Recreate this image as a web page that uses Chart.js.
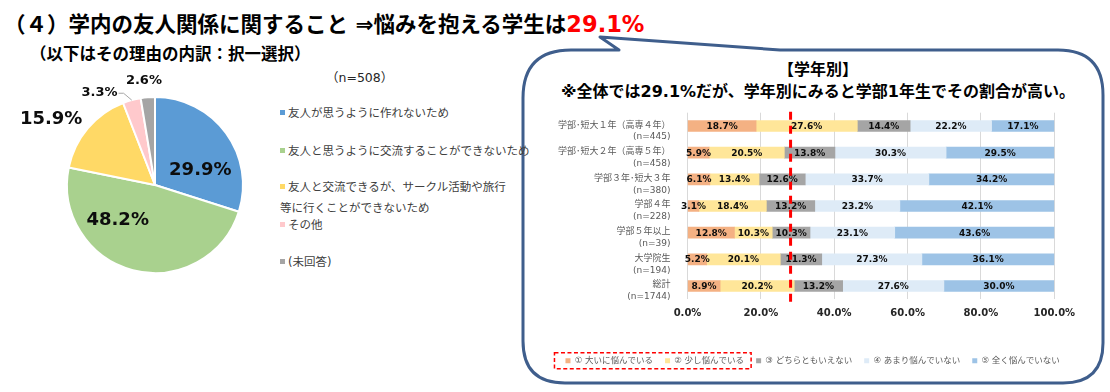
<!DOCTYPE html>
<html lang="ja">
<head>
<meta charset="utf-8">
<script src="https://cdn.jsdelivr.net/npm/chart.js@4.4.1/dist/chart.umd.min.js"></script>
<style>
  body { margin: 0; width: 1110px; height: 392px; background: #fff; position: relative; overflow: hidden;
         font-family: "DejaVu Sans", "Noto Sans CJK JP", sans-serif; color: #000; }
  .abs { position: absolute; white-space: nowrap; }
  #title { left: 4px; top: 9px; font-size: 21.5px; font-weight: bold; line-height: 30px; }
  #title .red { color: #FF0000; font-size: 22.5px; }
  #subtitle { left: 30px; top: 45px; font-size: 16.5px; font-weight: bold; line-height: 20px; }
  #nCount { left: 326px; top: 70px; font-size: 12.5px; line-height: 16px; color: #262626; }
  .lg { position: absolute; left: 280px; font-size: 11.5px; line-height: 16px; color: #404040; white-space: nowrap; }
  .lg i { position: absolute; left: 0; top: 5px; width: 5px; height: 5px; }
  .lg span { position: absolute; left: 8px; top: 0; }
  #callout { position: absolute; left: 0; top: 0; }
  .boxHead { left: 528px; width: 580px; text-align: center; font-weight: bold; font-size: 16px; line-height: 20px; }
  canvas { position: absolute; }
</style>
</head>
<body>
<svg id="callout" width="1110" height="392">
  <path d="M 523 98 Q 523 50 571 50 L 619 50 L 600 37 L 780 50 L 1058 50 Q 1103 50 1103 95 L 1103 343 Q 1103 383 1063 383 L 565 383 Q 523 383 523 341 Z"
        fill="none" stroke="#3F5E8C" stroke-width="3" stroke-linejoin="round"/>
</svg>

<div id="title" class="abs">（４）学内の友人関係に関すること ⇒悩みを抱える学生は<span class="red">29.1%</span></div>
<div id="subtitle" class="abs">（以下はその理由の内訳：択一選択）</div>
<div id="nCount" class="abs">（n=508）</div>
<div id="pieLegend"></div>

<div class="abs boxHead" style="top:60px">【学年別】</div>
<div class="abs boxHead" style="top:82px">※全体では29.1%だが、学年別にみると学部1年生でその割合が高い。</div>

<canvas id="pieChart" width="310" height="250" style="left:0; top:60px;"></canvas>
<canvas id="barChart" width="600" height="275" style="left:500px; top:100px;"></canvas>

<script>
// pie: reasons (n=508)
const pieLabels = ['友人が思うように作れないため', '友人と思うように交流することができないため',
  ['友人と交流できるが、サークル活動や旅行', '等に行くことができないため'], 'その他', '(未回答)'];
const pieValues = [29.9, 48.2, 15.9, 3.3, 2.6];
const pieColors = ['#5B9BD5', '#A9D18E', '#FFD966', '#FFC9CC', '#A5A5A5'];

// stacked bars by school year
const gradeLabels = [
  ['学部･短大１年（高専４年）', '(n=445)'],
  ['学部･短大２年（高専５年）', '(n=458)'],
  ['学部３年･短大３年', '(n=380)'],
  ['学部４年', '(n=228)'],
  ['学部５年以上', '(n=39)'],
  ['大学院生', '(n=194)'],
  ['総計', '(n=1744)']
];
const veryWorried     = [18.7, 5.9, 6.1, 3.1, 12.8, 5.2, 8.9];
const slightlyWorried = [27.6, 20.5, 13.4, 18.4, 10.3, 20.1, 20.2];
const neither         = [14.4, 13.8, 12.6, 13.2, 10.3, 11.3, 13.2];
const notMuch         = [22.2, 30.3, 33.7, 23.2, 23.1, 27.3, 27.6];
const notAtAll        = [17.1, 29.5, 34.2, 42.1, 43.6, 36.1, 30.0];
const seriesNames = ['① 大いに悩んでいる', '② 少し悩んでいる', '③ どちらともいえない', '④ あまり悩んでいない', '⑤ 全く悩んでいない'];
const seriesColors = ['#F4B183', '#FFE699', '#A5A5A5', '#DEEBF7', '#9DC3E6'];
const refLine = 28.1;

// label anchors for pie percentages, as fractions of the radius from the centre
const pieLabelAnchors = [[0.515, -0.172], [-0.424, 0.401], [-1.18, -0.745], [-0.63, -1.054], [-0.126, -1.19]];
const pieLabelSizes = [18, 18, 18, 13, 13];
const legendShift = 35.5;

// html legend for the pie
const legendTops = [105, 143, 179, 217, 254];
const pieLegend = document.getElementById('pieLegend');
pieLabels.forEach((lab, i) => {
  const lines = Array.isArray(lab) ? lab : [lab];
  const d = document.createElement('div');
  d.className = 'lg';
  d.style.top = legendTops[i] + 'px';
  d.innerHTML = '<i style="background:' + pieColors[i] + '"></i>' +
    lines.map((t, k) => '<span style="top:' + (k * 21) + 'px;' + (k ? 'left:0' : '') + '">' + t + '</span>').join('');
  pieLegend.appendChild(d);
});

const pieLabelPlugin = {
  id: 'pieLabels',
  afterDatasetsDraw(chart) {
    const ctx = chart.ctx;
    const arcs = chart.getDatasetMeta(0).data;
    ctx.save();
    ctx.textAlign = 'center';
    ctx.textBaseline = 'middle';
    ctx.fillStyle = '#0D0D0D';
    arcs.forEach((arc, i) => {
      const r = arc.outerRadius;
      const x = arc.x + pieLabelAnchors[i][0] * r;
      const y = arc.y + pieLabelAnchors[i][1] * r;
      const txt = pieValues[i].toFixed(1) + '%';
      ctx.font = 'bold ' + pieLabelSizes[i] + 'px "DejaVu Sans"';
      ctx.fillText(txt, x, y);
      if (i === 3) {
        // leader line to the small pink slice
        const w = ctx.measureText(txt).width;
        const mid = (arc.startAngle + arc.endAngle) / 2;
        ctx.strokeStyle = '#A6A6A6';
        ctx.lineWidth = 1;
        ctx.beginPath();
        ctx.moveTo(x + w / 2 + 1, y + 1);
        ctx.lineTo(x + w / 2 + 6, y + 1);
        ctx.lineTo(arc.x + Math.cos(mid) * r, arc.y + Math.sin(mid) * r);
        ctx.stroke();
      }
    });
    ctx.restore();
  }
};

new Chart(document.getElementById('pieChart'), {
  type: 'pie',
  data: {
    labels: pieLabels,
    datasets: [{ data: pieValues, backgroundColor: pieColors, borderColor: '#fff', borderWidth: 2 }]
  },
  options: {
    responsive: false,
    animation: false,
    layout: { padding: { top: 36, bottom: 36, left: 66, right: 66 } },
    plugins: { legend: { display: false }, tooltip: { enabled: false } }
  },
  plugins: [pieLabelPlugin]
});

const barLabelPlugin = {
  id: 'barLabels',
  afterDatasetsDraw(chart) {
    const ctx = chart.ctx;
    ctx.save();
    ctx.font = 'bold 9px "DejaVu Sans"';
    ctx.fillStyle = '#0D0D0D';
    ctx.textAlign = 'center';
    ctx.textBaseline = 'middle';
    chart.data.datasets.forEach((ds, di) => {
      chart.getDatasetMeta(di).data.forEach((bar, i) => {
        ctx.fillText(ds.data[i].toFixed(1) + '%', (bar.x + bar.base) / 2, bar.y + 0.5);
      });
    });
    ctx.restore();
  }
};

const refLinePlugin = {
  id: 'refLine',
  afterDatasetsDraw(chart) {
    const ctx = chart.ctx;
    const x = chart.scales.x.getPixelForValue(refLine);
    ctx.save();
    ctx.strokeStyle = '#FF0000';
    ctx.lineWidth = 3;
    ctx.setLineDash([8, 6]);
    ctx.beginPath();
    ctx.moveTo(x, chart.chartArea.top - 1);
    ctx.lineTo(x, chart.chartArea.bottom + 4);
    ctx.stroke();
    ctx.restore();
  }
};

// move the legend row to sit under the middle of the callout
const legendShiftPlugin = {
  id: 'legendShift',
  afterLayout(chart) {
    chart.legend.left += legendShift;
    chart.legend.right += legendShift;
  }
};

const legendBoxPlugin = {
  id: 'legendBox',
  afterDraw(chart) {
    const hb = chart.legend.legendHitBoxes;
    if (!hb || hb.length < 2) return;
    const ctx = chart.ctx;
    const left = hb[0].left - 11;
    const right = hb[1].left + hb[1].width + 7;
    const top = hb[0].top + hb[0].height / 2 - 8;
    ctx.save();
    ctx.strokeStyle = '#FF0000';
    ctx.lineWidth = 1.5;
    ctx.setLineDash([4, 2.5]);
    ctx.strokeRect(left, top, right - left, 16);
    ctx.restore();
  }
};

new Chart(document.getElementById('barChart'), {
  type: 'bar',
  data: {
    labels: gradeLabels,
    datasets: [veryWorried, slightlyWorried, neither, notMuch, notAtAll].map((vals, i) => ({
      label: seriesNames[i],
      data: vals,
      backgroundColor: seriesColors[i],
      barThickness: 11
    }))
  },
  options: {
    indexAxis: 'y',
    responsive: false,
    animation: false,
    layout: { padding: { top: 12.7, left: 0, right: 45.7, bottom: 0 } },
    scales: {
      x: {
        stacked: true, min: 0, max: 100,
        ticks: { stepSize: 20, callback: v => v.toFixed(1) + '%', padding: 8,
                 font: { family: '"DejaVu Sans"', size: 10, weight: 'bold' }, color: '#262626' },
        grid: { color: '#D9D9D9', drawTicks: false },
        border: { display: false },
        afterFit: s => { s.height = 45.2; }
      },
      y: {
        stacked: true,
        grid: { display: false },
        border: { display: false },
        ticks: { autoSkip: false, padding: 9, labelOffset: 5, color: '#595959',
                 font: { family: '"DejaVu Sans", "Noto Sans CJK JP"', size: 9, lineHeight: 1.3 } },
        afterFit: s => { s.width = 187.5; s.paddingTop = 0; s.paddingBottom = 0; }
      }
    },
    plugins: {
      legend: {
        position: 'bottom',
        labels: { boxWidth: 5, boxHeight: 5, padding: 12, color: '#595959',
                  font: { family: '"DejaVu Sans", "Noto Sans CJK JP"', size: 8.5 } }
      },
      tooltip: { enabled: false }
    }
  },
  plugins: [barLabelPlugin, refLinePlugin, legendShiftPlugin, legendBoxPlugin]
});
</script>
</body>
</html>
